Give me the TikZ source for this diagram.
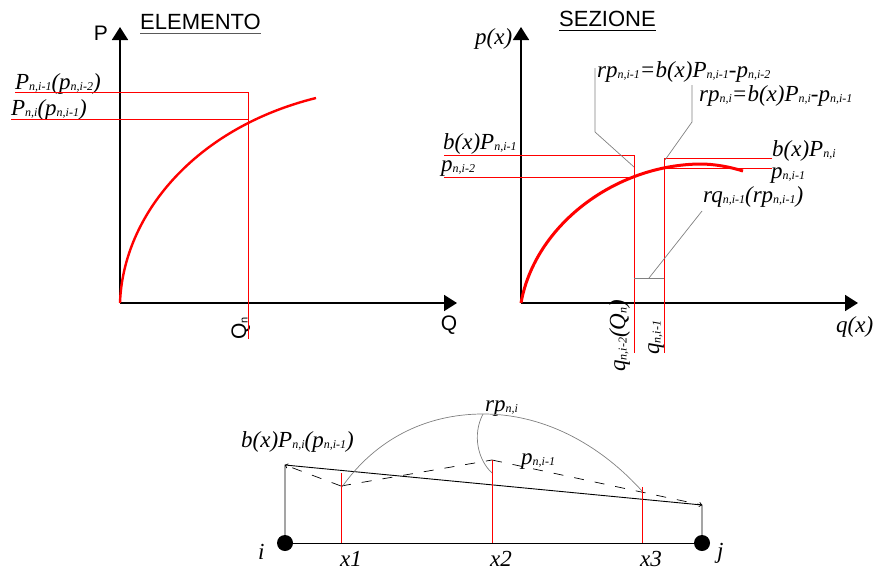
\documentclass[tikz,border=0pt]{standalone}
\usepackage{fontspec}
\setmainfont{Liberation Serif}
\setsansfont{Liberation Sans}
\usepackage{tikz}
\usetikzlibrary{arrows.meta,positioning,calc}
\newcommand{\low}[1]{\raisebox{-1.5pt}{\fontsize{12}{12}\selectfont\itshape #1}}

\begin{document}
\begin{tikzpicture}[
    x=1pt, y=-1pt,
    axis/.style={-{Triangle[length=13pt,width=16pt]}, line width=1.8pt, black},
    curve/.style={red, line width=2.4pt},
    level/.style={red, line width=0.8pt},
    leader/.style={gray, line width=0.7pt},
    beam/.style={black, line width=0.9pt},
    moment/.style={black, line width=0.7pt, dash pattern=on 10pt off 11pt},
    momenttip/.style={moment, -{To[length=3pt,width=5pt]}},
    head/.style={font=\fontsize{22}{22}\selectfont\sffamily, inner sep=0pt, anchor=base west},
    sans/.style={font=\fontsize{21}{21}\selectfont\sffamily, inner sep=0pt},
    lbl/.style={font=\fontsize{23}{23}\selectfont\itshape, inner sep=0pt, anchor=base west},
    node/.style={circle, fill=black, inner sep=0pt, minimum size=16pt}
]
\useasboundingbox (0,0) rectangle (875,570);

\coordinate (O1) at (120,303);
\coordinate (P1top) at (120,27);
\coordinate (Q1end) at (457,303);
\coordinate (a1) at (15,92);
\coordinate (a2) at (248,92);
\coordinate (a3) at (248,339);
\coordinate (b1) at (11,119);
\coordinate (b2) at (248,119);

\node[head] (elemento) at (140,29) {ELEMENTO};
\node[sans] (plabel) at (101,33) {P};
\node[sans] (qlabel) at (449,325) {Q};
\node[lbl] (pn1) at (15,89) {P\low{n,i-1}(p\low{n,i-2})};
\node[lbl] (pn2) at (11,115) {P\low{n,i}(p\low{n,i-1})};
\node[sans, rotate=90, anchor=base west] (qn) at (246,340) {Q\raisebox{-1.5pt}{\fontsize{11}{11}\selectfont n}};

\draw[gray!70!black, line width=1pt] ([yshift=-4pt]elemento.base west) -- ([yshift=-4pt]elemento.base east);
\draw[axis] (O1) -- (P1top);
\draw[axis] (O1) -- (Q1end);
\draw[curve] (O1) .. controls (123,215) and (195,128) .. (316,98);
\draw[level] (a1) -- (a2) -- (a3);
\draw[level] (b1) -- (b2);

\coordinate (O2) at (521,303);
\coordinate (P2top) at (521,27);
\coordinate (Q2end) at (858,303);
\coordinate (c1) at (444,155);
\coordinate (c2) at (634,155);
\coordinate (c3) at (634,353);
\coordinate (d1) at (444,177);
\coordinate (d2) at (634,177);
\coordinate (e1) at (772,158);
\coordinate (e2) at (664,158);
\coordinate (e3) at (664,353);
\coordinate (f1) at (664,168);
\coordinate (f2) at (772,168);
\coordinate (g1) at (595,68);
\coordinate (g2) at (595,132);
\coordinate (g3) at (634,167);
\coordinate (h1) at (692,85);
\coordinate (h2) at (692,122);
\coordinate (h3) at (665,160);
\coordinate (k1) at (702,211);
\coordinate (k2) at (649,278);
\coordinate (k3) at (634,278);
\coordinate (k4) at (664,278);

\node[head] (sezione) at (559,26) {SEZIONE};
\node[lbl] (px) at (475,44) {p(x)};
\node[lbl] (qx) at (836,332) {q(x)};
\node[lbl] (rp1) at (597,77) {rp\low{n,i-1}=b(x)P\low{n,i-1}-p\low{n,i-2}};
\node[lbl] (rp2) at (699,101) {rp\low{n,i}=b(x)P\low{n,i}-p\low{n,i-1}};
\node[lbl] (bp1) at (443,149) {b(x)P\low{n,i-1}};
\node[lbl] (pn3) at (441,171) {p\low{n,i-2}};
\node[lbl] (bp2) at (772,156) {b(x)P\low{n,i}};
\node[lbl] (pn4) at (771,178) {p\low{n,i-1}};
\node[lbl] (rq) at (703,202) {rq\low{n,i-1}(rp\low{n,i-1})};
\node[lbl, rotate=90] (q1) at (625,372) {q\low{n,i-2}(Q\low{n})};
\node[lbl, rotate=90] (q2) at (659,355) {q\low{n,i-1}};

\draw[black, line width=1pt] ([yshift=-4.5pt]sezione.base west) -- ([yshift=-4.5pt]sezione.base east);
\draw[axis] (O2) -- (P2top);
\draw[axis] (O2) -- (Q2end);
\draw[red, line width=3pt] (O2) .. controls (535,225) and (615,165) .. (700,164) .. controls (715,164) and (730,167) .. (743,171);
\draw[level] (c1) -- (c2) -- (c3);
\draw[level] (d1) -- (d2);
\draw[level] (e1) -- (e2) -- (e3);
\draw[level] (f1) -- (f2);
\draw[leader] (g1) -- (g2) -- (g3);
\draw[leader] (h1) -- (h2) -- (h3);
\draw[leader] (k1) -- (k2);
\draw[leader] (k3) -- (k4);

\node[node] (i) at (285,543) {};
\node[node] (j) at (702,543) {};
\coordinate (i1) at (285,465);
\coordinate (j1) at (702,505);
\coordinate (m1) at (341,486);
\coordinate (m2) at (492,460);
\coordinate (s1) at (341,543);
\coordinate (s2) at (492,543);
\coordinate (s3) at (642,543);
\coordinate (t1) at (341,473);
\coordinate (t3) at (642,487);
\coordinate (r0) at (483,414);
\coordinate (r1) at (342,487);
\coordinate (r2) at (642,491);
\coordinate (r3) at (492,473);

\node[lbl] (ilabel) at (258,559) {i};
\node[lbl] (jlabel) at (717,558) {j};
\node[lbl] (x1) at (340,566) {x1};
\node[lbl] (x2) at (490,566) {x2};
\node[lbl] (x3) at (640,566) {x3};
\node[lbl] (rp3) at (485,411) {rp\low{n,i}};
\node[lbl] (bp3) at (241,447) {b(x)P\low{n,i}(p\low{n,i-1})};
\node[lbl] (pn5) at (521,464) {p\low{n,i-1}};

\draw[beam] (i) -- (j);
\draw[beam] (i) -- (i1) -- (j1) -- (j);
\draw[momenttip] (m1) -- (i1);
\draw[moment] (m1) -- (m2);
\draw[momenttip] (m2) -- (j1);
\draw[level] (s1) -- (t1);
\draw[level] (s2) -- (m2);
\draw[level] (s3) -- (t3);
\draw[leader] (r1) .. controls (375,440) and (425,414) .. (r0) .. controls (550,414) and (605,450) .. (r2);
\draw[leader] (r0) .. controls (472,435) and (478,460) .. (r3);
\end{tikzpicture}
\end{document}
